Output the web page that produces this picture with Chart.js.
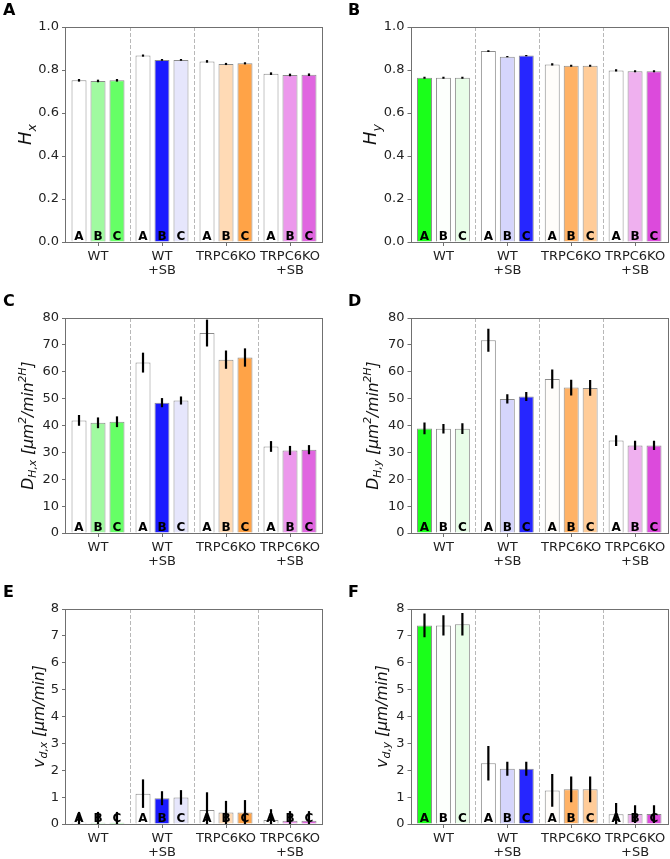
<!DOCTYPE html>
<html><head><meta charset="utf-8">
<script src="https://cdn.jsdelivr.net/npm/chart.js@4.4.1/dist/chart.umd.min.js"></script>
<style>
html,body{margin:0;padding:0;background:#fff;}
body{width:670px;height:859px;position:relative;overflow:hidden;}
canvas{position:absolute;}
</style></head><body>
<script>
// ---- categories ----
const groups = [["WT"], ["WT", "+SB"], ["TRPC6KO"], ["TRPC6KO", "+SB"]];
const letters = ["A", "B", "C"];

// ---- panel A : H_x ----
const hx_A = [0.752, 0.867, 0.840, 0.783];
const hx_B = [0.749, 0.847, 0.828, 0.777];
const hx_C = [0.752, 0.847, 0.831, 0.778];
const hx_errA = [0.006, 0.005, 0.006, 0.006];
const hx_errB = [0.006, 0.004, 0.005, 0.006];
const hx_errC = [0.006, 0.004, 0.005, 0.006];

// ---- panel B : H_y ----
const hy_A = [0.764, 0.888, 0.826, 0.798];
const hy_B = [0.764, 0.862, 0.820, 0.794];
const hy_C = [0.764, 0.867, 0.820, 0.794];
const hy_errA = [0.005, 0.004, 0.005, 0.005];
const hy_errB = [0.005, 0.003, 0.005, 0.005];
const hy_errC = [0.005, 0.003, 0.005, 0.005];

// ---- panel C : D_H,x ----
const dhx_A = [41.9, 63.4, 74.4, 32.2];
const dhx_B = [41.0, 48.5, 64.5, 30.7];
const dhx_C = [41.4, 49.3, 65.3, 31.0];
const dhx_errA = [2.0, 3.7, 5.0, 2.0];
const dhx_errB = [2.0, 1.7, 3.4, 1.7];
const dhx_errC = [2.0, 1.5, 3.4, 1.7];

// ---- panel D : D_H,y ----
const dhy_A = [38.9, 71.7, 57.3, 34.4];
const dhy_B = [38.8, 49.9, 54.1, 32.6];
const dhy_C = [38.8, 50.8, 54.0, 32.6];
const dhy_errA = [2.2, 4.3, 3.5, 2.0];
const dhy_errB = [1.8, 1.7, 2.9, 1.7];
const dhy_errC = [2.0, 1.7, 2.9, 1.7];

// ---- panel E : v_d,x ----
const vdx_A = [0.05, 1.13, 0.52, 0.15];
const vdx_B = [0.05, 0.96, 0.43, 0.12];
const vdx_C = [0.05, 0.99, 0.43, 0.12];
const vdx_errA = [0.40, 0.53, 0.66, 0.40];
const vdx_errB = [0.40, 0.26, 0.43, 0.36];
const vdx_errC = [0.40, 0.27, 0.46, 0.36];

// ---- panel F : v_d,y ----
const vdy_A = [7.39, 2.26, 1.25, 0.36];
const vdy_B = [7.39, 2.06, 1.29, 0.37];
const vdy_C = [7.43, 2.06, 1.29, 0.37];
const vdy_errA = [0.44, 0.64, 0.61, 0.42];
const vdy_errB = [0.38, 0.26, 0.48, 0.33];
const vdy_errC = [0.42, 0.26, 0.48, 0.33];

// ---- colours (x-panels and y-panels) ----
const colX = [
  ["#ffffff", "#ffffff", "#ffffff", "#ffffff"],
  ["#a0faa0", "#1a1aff", "#ffdab5", "#ec98ec"],
  ["#66ff66", "#e6e6fc", "#ffa347", "#e066e0"]
];
const colY = [
  ["#1aff1a", "#ffffff", "#fffdfa", "#ffffff"],
  ["#fdfffd", "#d5d5fc", "#ffb266", "#efb0ef"],
  ["#e8fde8", "#2626ff", "#ffcc99", "#dc4adc"]
];

const FONT = '"DejaVu Sans", "Liberation Sans", sans-serif';

function drawTitle(ctx, segs, size, cx, cy) {
  ctx.save();
  ctx.translate(cx, cy);
  ctx.rotate(-Math.PI / 2);
  const fm = s => `italic ${s.s ? size * 0.7 : size}px ${FONT}`;
  let total = 0;
  segs.forEach(s => { ctx.font = fm(s); s.w = ctx.measureText(s.t).width; total += s.w; });
  let xx = -total / 2;
  ctx.textBaseline = 'alphabetic';
  ctx.textAlign = 'left';
  ctx.fillStyle = '#111';
  const base = size * 0.36;
  segs.forEach(s => {
    ctx.font = fm(s);
    const dy = s.s === 'sub' ? size * 0.24 : (s.s === 'sup' ? -size * 0.42 : 0);
    ctx.fillText(s.t, xx, base + dy);
    xx += s.w;
  });
  ctx.restore();
}

function buildPanel(p) {
  const cv = document.createElement('canvas');
  cv.width = p.w; cv.height = p.h;
  cv.style.left = p.left + 'px'; cv.style.top = p.top + 'px';
  cv.style.width = p.w + 'px'; cv.style.height = p.h + 'px';
  document.body.appendChild(cv);

  const deco = {
    id: 'deco',
    beforeDatasetsDraw(chart) {
      const { ctx, chartArea: a, scales: { x } } = chart;
      ctx.save();
      ctx.strokeStyle = '#b8b8b8'; ctx.lineWidth = 1; ctx.setLineDash([4, 2]);
      for (let k = 0; k < groups.length - 1; k++) {
        const xx = Math.round((x.getPixelForValue(k) + x.getPixelForValue(k + 1)) / 2) + 0.5;
        ctx.beginPath(); ctx.moveTo(xx, a.top); ctx.lineTo(xx, a.bottom); ctx.stroke();
      }
      ctx.restore();
    },
    afterDatasetsDraw(chart) {
      const { ctx, chartArea: a, scales: { y } } = chart;
      ctx.save();
      ctx.beginPath(); ctx.rect(a.left, a.top, a.right - a.left, a.bottom - a.top); ctx.clip();
      ctx.fillStyle = '#000'; ctx.font = `bold 12px ${FONT}`;
      ctx.textAlign = 'center'; ctx.textBaseline = 'alphabetic';
      chart.data.datasets.forEach((ds, i) => {
        chart.getDatasetMeta(i).data.forEach((el) => {
          ctx.fillText(letters[i], el.x, a.bottom - 2.5);
        });
      });
      ctx.strokeStyle = '#000'; ctx.lineWidth = 2.2;
      chart.data.datasets.forEach((ds, i) => {
        chart.getDatasetMeta(i).data.forEach((el, j) => {
          const v = ds.data[j], e = p.errs[i][j];
          ctx.beginPath();
          ctx.moveTo(el.x, y.getPixelForValue(v - e));
          ctx.lineTo(el.x, y.getPixelForValue(v + e));
          ctx.stroke();
        });
      });
      ctx.restore();
      ctx.save();
      ctx.strokeStyle = '#707070'; ctx.lineWidth = 1;
      ctx.strokeRect(Math.round(a.left) - 0.5, Math.round(a.top) + 0.5,
        Math.round(a.right - a.left) + 1, Math.round(a.bottom - a.top));
      ctx.restore();
      drawTitle(ctx, p.title, p.tsize, p.tx, (a.top + a.bottom) / 2);
      ctx.save();
      ctx.fillStyle = '#000'; ctx.font = `bold 16px ${FONT}`;
      ctx.textAlign = 'left'; ctx.textBaseline = 'alphabetic';
      ctx.fillText(p.letter, p.lx, a.top - 12);
      ctx.restore();
    }
  };

  new Chart(cv, {
    type: 'bar',
    data: {
      labels: groups,
      datasets: p.vals.map((v, i) => ({
        label: letters[i], data: v, backgroundColor: p.cols[i],
        borderColor: '#8c8c8c', borderWidth: 1,
        categoryPercentage: 0.89, barPercentage: 0.79
      }))
    },
    options: {
      responsive: false, animation: false, devicePixelRatio: 1,
      layout: { padding: { left: 0, top: p.pt, right: p.w - p.pr, bottom: 0 } },
      plugins: { legend: { display: false }, tooltip: { enabled: false } },
      scales: {
        x: {
          offset: true,
          grid: { offset: false, drawOnChartArea: false, drawTicks: true, tickLength: 4, color: '#707070', lineWidth: 1 },
          border: { display: false },
          ticks: { font: { family: FONT, size: 13, lineHeight: 1.06 }, color: '#222', padding: 4, maxRotation: 0, autoSkip: false },
          afterFit: s => { s.height = p.h - p.pb; }
        },
        y: {
          min: 0, max: p.ymax,
          ticks: { stepSize: p.step, callback: v => Number(v).toFixed(p.dec), font: { family: FONT, size: 13 }, color: '#222', padding: 3 },
          grid: { drawOnChartArea: false, drawTicks: true, tickLength: 4, color: '#707070' },
          border: { display: false },
          afterFit: s => { s.width = p.pl; }
        }
      }
    },
    plugins: [deco]
  });
}

const tHx = [{ t: 'H' }, { t: 'x', s: 'sub' }];
const tHy = [{ t: 'H' }, { t: 'y', s: 'sub' }];
const tDx = [{ t: 'D' }, { t: 'H,x', s: 'sub' }, { t: ' [μm' }, { t: '2', s: 'sup' }, { t: '/min' }, { t: '2H', s: 'sup' }, { t: ']' }];
const tDy = [{ t: 'D' }, { t: 'H,y', s: 'sub' }, { t: ' [μm' }, { t: '2', s: 'sup' }, { t: '/min' }, { t: '2H', s: 'sup' }, { t: ']' }];
const tVx = [{ t: 'v' }, { t: 'd,x', s: 'sub' }, { t: ' [μm/min]' }];
const tVy = [{ t: 'v' }, { t: 'd,y', s: 'sub' }, { t: ' [μm/min]' }];

buildPanel({ letter: 'A', lx: 3, left: 0, top: 0, w: 335, h: 285, pl: 66, pr: 322, pt: 27, pb: 242,
  ymax: 1.0, step: 0.2, dec: 1, vals: [hx_A, hx_B, hx_C], errs: [hx_errA, hx_errB, hx_errC], cols: colX,
  title: tHx, tsize: 18, tx: 25 });
buildPanel({ letter: 'B', lx: 13, left: 335, top: 0, w: 335, h: 285, pl: 76.5, pr: 332, pt: 27, pb: 242,
  ymax: 1.0, step: 0.2, dec: 1, vals: [hy_A, hy_B, hy_C], errs: [hy_errA, hy_errB, hy_errC], cols: colY,
  title: tHy, tsize: 18, tx: 35 });
buildPanel({ letter: 'C', lx: 3, left: 0, top: 285, w: 335, h: 285, pl: 66, pr: 322, pt: 33, pb: 248,
  ymax: 80, step: 10, dec: 0, vals: [dhx_A, dhx_B, dhx_C], errs: [dhx_errA, dhx_errB, dhx_errC], cols: colX,
  title: tDx, tsize: 15.5, tx: 27 });
buildPanel({ letter: 'D', lx: 13, left: 335, top: 285, w: 335, h: 285, pl: 76.5, pr: 332, pt: 33, pb: 248,
  ymax: 80, step: 10, dec: 0, vals: [dhy_A, dhy_B, dhy_C], errs: [dhy_errA, dhy_errB, dhy_errC], cols: colY,
  title: tDy, tsize: 15.5, tx: 37 });
buildPanel({ letter: 'E', lx: 3, left: 0, top: 570, w: 335, h: 289, pl: 66, pr: 322, pt: 39, pb: 254,
  ymax: 8, step: 1, dec: 0, vals: [vdx_A, vdx_B, vdx_C], errs: [vdx_errA, vdx_errB, vdx_errC], cols: colX,
  title: tVx, tsize: 15.5, tx: 38 });
buildPanel({ letter: 'F', lx: 13, left: 335, top: 570, w: 335, h: 289, pl: 76.5, pr: 332, pt: 39, pb: 254,
  ymax: 8, step: 1, dec: 0, vals: [vdy_A, vdy_B, vdy_C], errs: [vdy_errA, vdy_errB, vdy_errC], cols: colY,
  title: tVy, tsize: 15.5, tx: 46 });
</script>
</body></html>
